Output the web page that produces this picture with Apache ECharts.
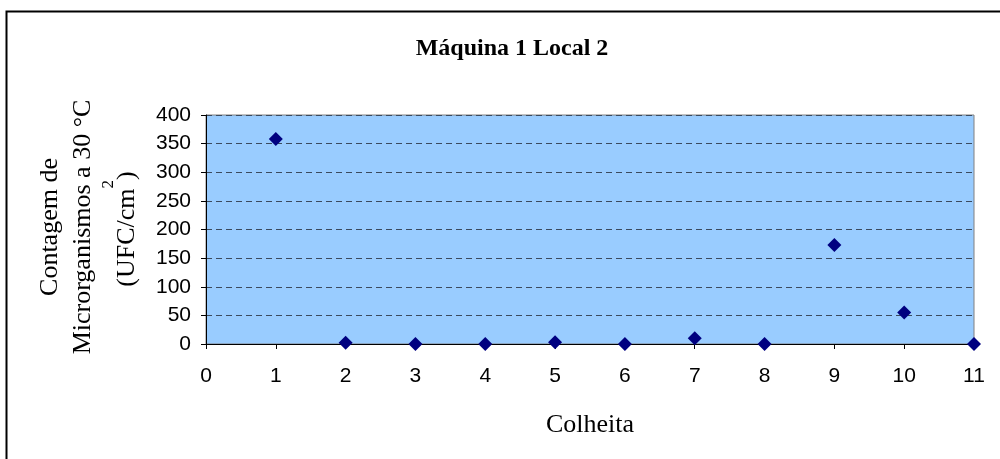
<!DOCTYPE html>
<html>
<head>
<meta charset="utf-8">
<script src="https://cdn.jsdelivr.net/npm/echarts@6/dist/echarts.min.js"></script>
<style>
html,body{margin:0;padding:0;background:#fff;}
#chart{width:1000px;height:459px;}
</style>
</head>
<body>
<div id="chart"></div>
<script>
const titleText = 'Máquina 1 Local 2';
const xAxisName = 'Colheita';
const yLabelLines = ['Contagem de', 'Microrganismos a 30 °C'];
const colheita = [1, 2, 3, 4, 5, 6, 7, 8, 9, 10, 11];
const contagem = [358, 2, 0, 0, 3, 0, 10, 0, 173, 55, 0];

const chart = echarts.init(document.getElementById('chart'));
const serif = '"Liberation Serif", "Times New Roman", serif';
const sans = '"Liberation Sans", Arial, sans-serif';

chart.setOption({
  animation: false,
  backgroundColor: '#ffffff',
  title: {
    text: titleText,
    left: 507, top: 32, textAlign: 'center',
    textStyle: {fontFamily: serif, fontWeight: 'bold', fontSize: 24, color: '#000'}
  },
  grid: {
    left: 206, top: 115, right: 26, bottom: 115,
    show: true, backgroundColor: '#99CCFF', borderColor: '#808080', borderWidth: 1
  },
  xAxis: {
    type: 'value', min: 0, max: 11, interval: 1,
    name: xAxisName, nameLocation: 'middle', nameGap: 68,
    nameTextStyle: {fontFamily: serif, fontSize: 26, color: '#000'},
    axisLine: {show: true, onZero: false, lineStyle: {color: '#000', width: 1}},
    axisTick: {show: true, length: 5, lineStyle: {color: '#000'}},
    axisLabel: {fontFamily: sans, fontSize: 21, color: '#000', margin: 22},
    splitLine: {show: false}
  },
  yAxis: {
    type: 'value', min: 0, max: 400, interval: 50,
    axisLine: {show: true, lineStyle: {color: '#000', width: 1}},
    axisTick: {show: true, length: 5, lineStyle: {color: '#000'}},
    axisLabel: {fontFamily: sans, fontSize: 21, color: '#000', margin: 15},
    splitLine: {show: true, lineStyle: {color: '#3a4a5e', type: [6, 4], width: 1}}
  },
  series: [{
    type: 'scatter',
    data: colheita.map((c, i) => [c, contagem[i]]),
    symbol: 'diamond', symbolSize: 14,
    itemStyle: {color: '#000080', opacity: 1},
    z: 5
  }],
  graphic: [
    {type: 'rect', shape: {x: 6.5, y: 11.5, width: 1000, height: 460},
     style: {fill: 'none', stroke: '#000', lineWidth: 2}, silent: true},
    {type: 'text', x: 50, y: 227, rotation: Math.PI / 2,
     style: {text: yLabelLines[0], font: '26px ' + serif, fill: '#000', textAlign: 'center', textVerticalAlign: 'middle'}},
    {type: 'text', x: 83, y: 227, rotation: Math.PI / 2,
     style: {text: yLabelLines[1], font: '26px ' + serif, fill: '#000', textAlign: 'center', textVerticalAlign: 'middle'}},
    {type: 'text', x: 118, y: 229, rotation: Math.PI / 2,
     style: {
       text: '{a|(UFC/cm}{s|2}{a|)}',
       textAlign: 'center', textVerticalAlign: 'middle',
       rich: {
         a: {fontFamily: serif, fontSize: 26, color: '#000', verticalAlign: 'bottom', height: 36},
         s: {fontFamily: serif, fontSize: 17, color: '#000', verticalAlign: 'top', height: 36, padding: [0, 0, 18, 0]}
       }
     }}
  ]
});
</script>
</body>
</html>
